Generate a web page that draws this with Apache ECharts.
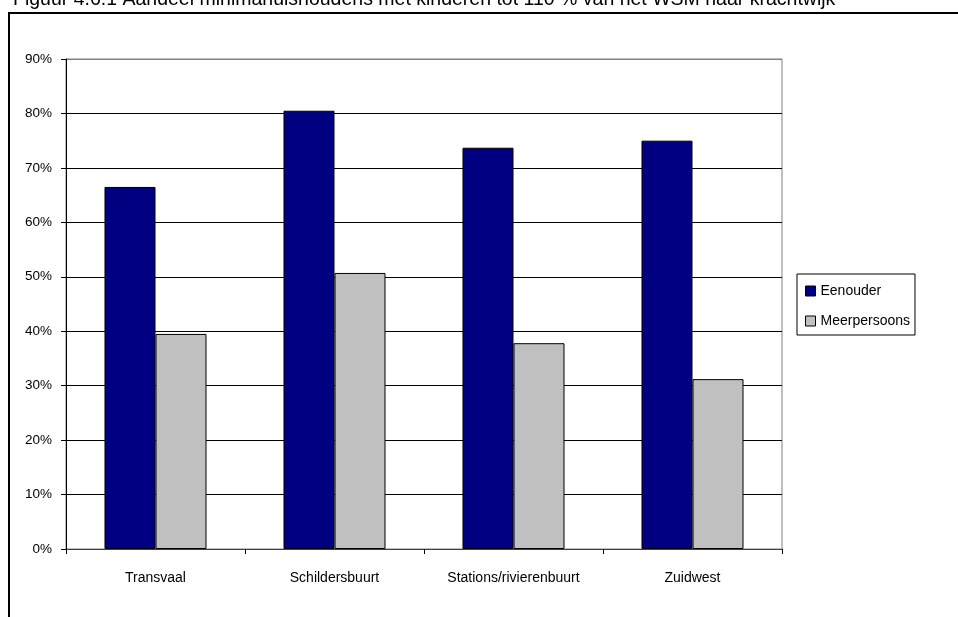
<!DOCTYPE html>
<html>
<head>
<meta charset="utf-8">
<script src="https://cdn.jsdelivr.net/npm/echarts@6/dist/echarts.min.js"></script>
<style>
html,body{margin:0;padding:0;background:#fff;}
#c{width:958px;height:617px;}
</style>
</head>
<body>
<div id="c"></div>
<script>
const categories = ['Transvaal', 'Schildersbuurt', 'Stations/rivierenbuurt', 'Zuidwest'];
const eenouder = [66.5, 80.5, 73.7, 75.0];
const meerpersoons = [39.5, 50.7, 37.8, 31.2];
const seriesNames = ['Eenouder', 'Meerpersoons'];
const titleText = 'Figuur 4.6.1 Aandeel minimahuishoudens met kinderen tot 110 % van het WSM naar krachtwijk';

const chart = echarts.init(document.getElementById('c'), null, {renderer: 'canvas'});
const font = 'Arial, "Liberation Sans", sans-serif';
const gridColors = ['#000','#000','#000','#000','#000','#000','#000','#000','#000','#808080'];

chart.setOption({
  animation: false,
  backgroundColor: '#fff',
  textStyle: {fontFamily: font},
  graphic: [
    {type: 'polyline', shape: {points: [[958, 13], [9, 13], [9, 617]]},
     style: {stroke: '#000', lineWidth: 2, fill: null}, z: 10},
    {type: 'text', left: 13, top: -10,
     style: {text: titleText, font: '19.5px Arial, "Liberation Sans", sans-serif', fill: '#000'}, z: 10}
  ],
  grid: {left: 66, right: 176, top: 59, bottom: 68, show: true, borderColor: '#808080', borderWidth: 1, backgroundColor: '#fff'},
  legend: {
    orient: 'vertical', left: 797, top: 274,
    data: seriesNames,
    icon: 'rect', itemWidth: 10, itemHeight: 10, itemGap: 16,
    padding: [10, 5, 7, 8],
    borderColor: '#000', borderWidth: 1,
    textStyle: {fontSize: 14, color: '#000', fontFamily: font},
    itemStyle: {borderColor: '#000', borderWidth: 1}
  },
  xAxis: {
    type: 'category', data: categories,
    axisLine: {show: true, lineStyle: {color: '#404040', width: 1}},
    axisTick: {show: true, length: 5, inside: false, lineStyle: {color: '#000'}},
    axisLabel: {fontSize: 14, color: '#000', margin: 22, fontFamily: font},
    splitLine: {show: false}
  },
  yAxis: {
    type: 'value', min: 0, max: 90, interval: 10,
    axisLine: {show: true, lineStyle: {color: '#000', width: 1}},
    axisTick: {show: true, length: 5, lineStyle: {color: '#000'}},
    axisLabel: {fontSize: 13.5, color: '#000', margin: 14, formatter: '{value}%', fontFamily: font},
    splitLine: {show: true, lineStyle: {color: gridColors, width: 1}}
  },
  series: [
    {name: seriesNames[0], type: 'bar', data: eenouder, barGap: '0%', barCategoryGap: '43%',
     itemStyle: {color: '#000080', borderColor: '#000', borderWidth: 1}},
    {name: seriesNames[1], type: 'bar', data: meerpersoons, barGap: '0%', barCategoryGap: '43%',
     itemStyle: {color: '#C0C0C0', borderColor: '#000', borderWidth: 1}}
  ]
});
</script>
</body>
</html>
